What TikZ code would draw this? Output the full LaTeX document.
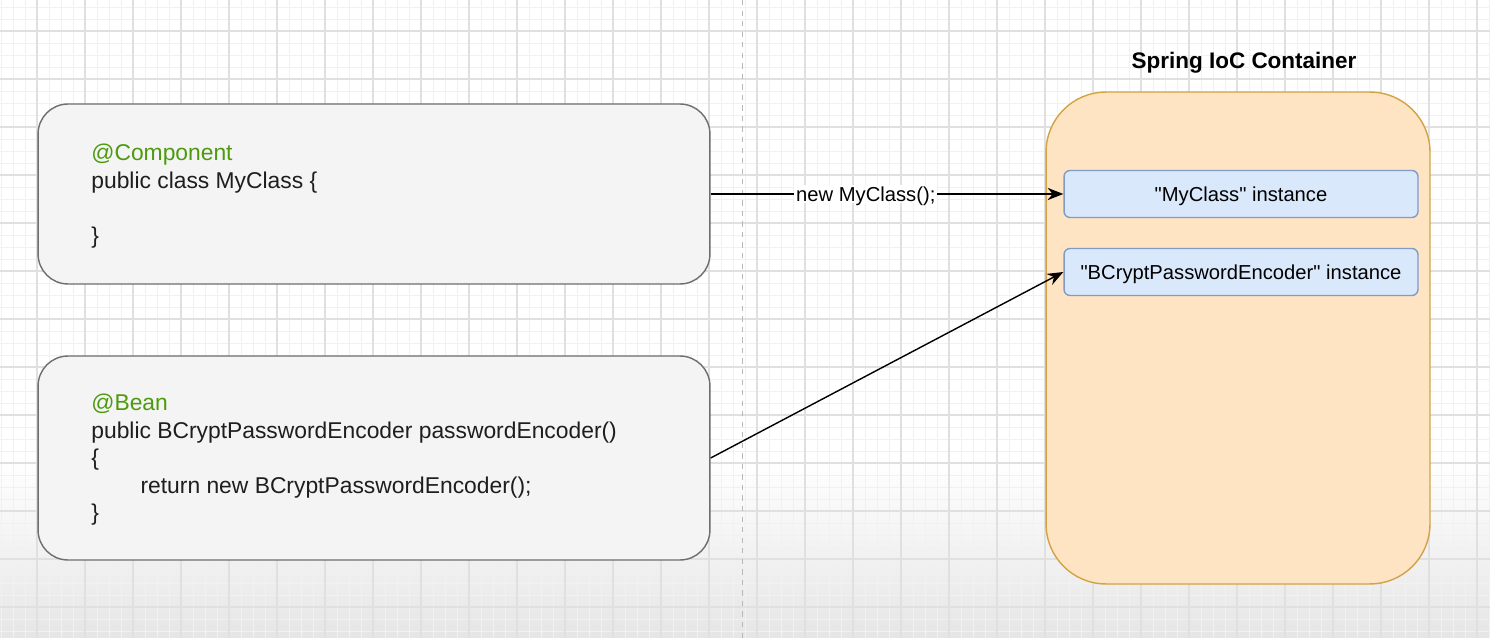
\documentclass[tikz,border=0pt]{standalone}
\usepackage{fontspec}
\setmainfont{Liberation Sans}[Ligatures=TeXOff]
\usetikzlibrary{arrows.meta, positioning}
\definecolor{gridminor}{HTML}{F1F1F1}
\definecolor{gridmajor}{HTML}{E0E0E0}
\definecolor{boxfill}{HTML}{F4F4F4}
\definecolor{boxline}{HTML}{6E6E6E}
\definecolor{iocfill}{HTML}{FFE4C4}
\definecolor{iocline}{HTML}{D2A343}
\definecolor{instfill}{HTML}{DAE8FC}
\definecolor{instline}{HTML}{7F9BC6}
\definecolor{annot}{HTML}{4D9A0F}
\definecolor{codetext}{HTML}{1E1E1E}
\tikzset{
    codebox/.style={draw=boxline, fill=boxfill, line width=0.8pt, rounded corners=0.6cm, minimum width=13.44cm},
    codetxt/.style={anchor=north west, inner sep=0pt, align=left, text=codetext, font=\fontsize{13}{15.6}\selectfont},
    container/.style={draw=iocline, fill=iocfill, line width=0.8pt, rounded corners=1.2cm, minimum width=7.68cm, minimum height=9.84cm},
    instance/.style={draw=instline, fill=instfill, line width=0.8pt, rounded corners=0.12cm, minimum width=7.08cm, minimum height=0.94cm, text depth=0pt, font=\fontsize{11.5}{13}\selectfont},
    link/.style={-{Stealth[length=9pt,width=7pt]}, line width=0.8pt, black}
}
\begin{document}
\begin{tikzpicture}[x=0.02cm, y=-0.02cm]
    \useasboundingbox (0,0) rectangle (1490,638);
    % background grid
    \fill[white] (0,0) rectangle (1490,638);
    \shade[top color=white, bottom color=black!10] (0,460) rectangle (1490,638);
    \foreach \x in {1,13,...,1489} {\draw[gridminor, line width=0.5pt] (\x,0) -- (\x,638);}
    \foreach \y in {7,19,...,637} {\draw[gridminor, line width=0.5pt] (0,\y) -- (1490,\y);}
    \foreach \x in {37,85,...,1489} {\draw[gridmajor, line width=0.6pt] (\x,0) -- (\x,638);}
    \foreach \y in {31,79,...,637} {\draw[gridmajor, line width=0.6pt] (0,\y) -- (1490,\y);}
    \draw[black!28, line width=0.5pt, dash pattern=on 3pt off 3pt] (742,0) -- (742,638);
    % source classes
    \node[codebox, minimum height=3.6cm] (component) at (374,194) {};
    \node[codetxt] (componentcode) at (91,144)
        {\textcolor{annot}{@Component}\\public class MyClass \{\\\mbox{}\\\}};
    \node[codebox, minimum height=4.08cm] (bean) at (374,458) {};
    \node[codetxt] (beancode) at (91,394)
        {\textcolor{annot}{@Bean}\\public BCryptPasswordEncoder passwordEncoder()\\\{\\\hspace*{28pt}return new BCryptPasswordEncoder();\\\}};
    % container
    \node[container] (ioc) at (1238,338) {};
    \node[font=\bfseries\fontsize{12.8}{15}\selectfont] (ioctitle) at (1244,63) {Spring IoC Container};
    \node[instance] (myclass) at (1241,194) {"MyClass" instance};
    \node[instance] (encoder) at (1241,272) {"BCryptPasswordEncoder" instance};
    % arrows
    \draw[link] (component.east) -- node[pos=0.44, fill=white, inner sep=1pt, text depth=0pt, font=\fontsize{11.5}{13}\selectfont] (newlabel) {new MyClass();} (myclass.west);
    \draw[link] (bean.east) -- (encoder.west);
\end{tikzpicture}
\end{document}
